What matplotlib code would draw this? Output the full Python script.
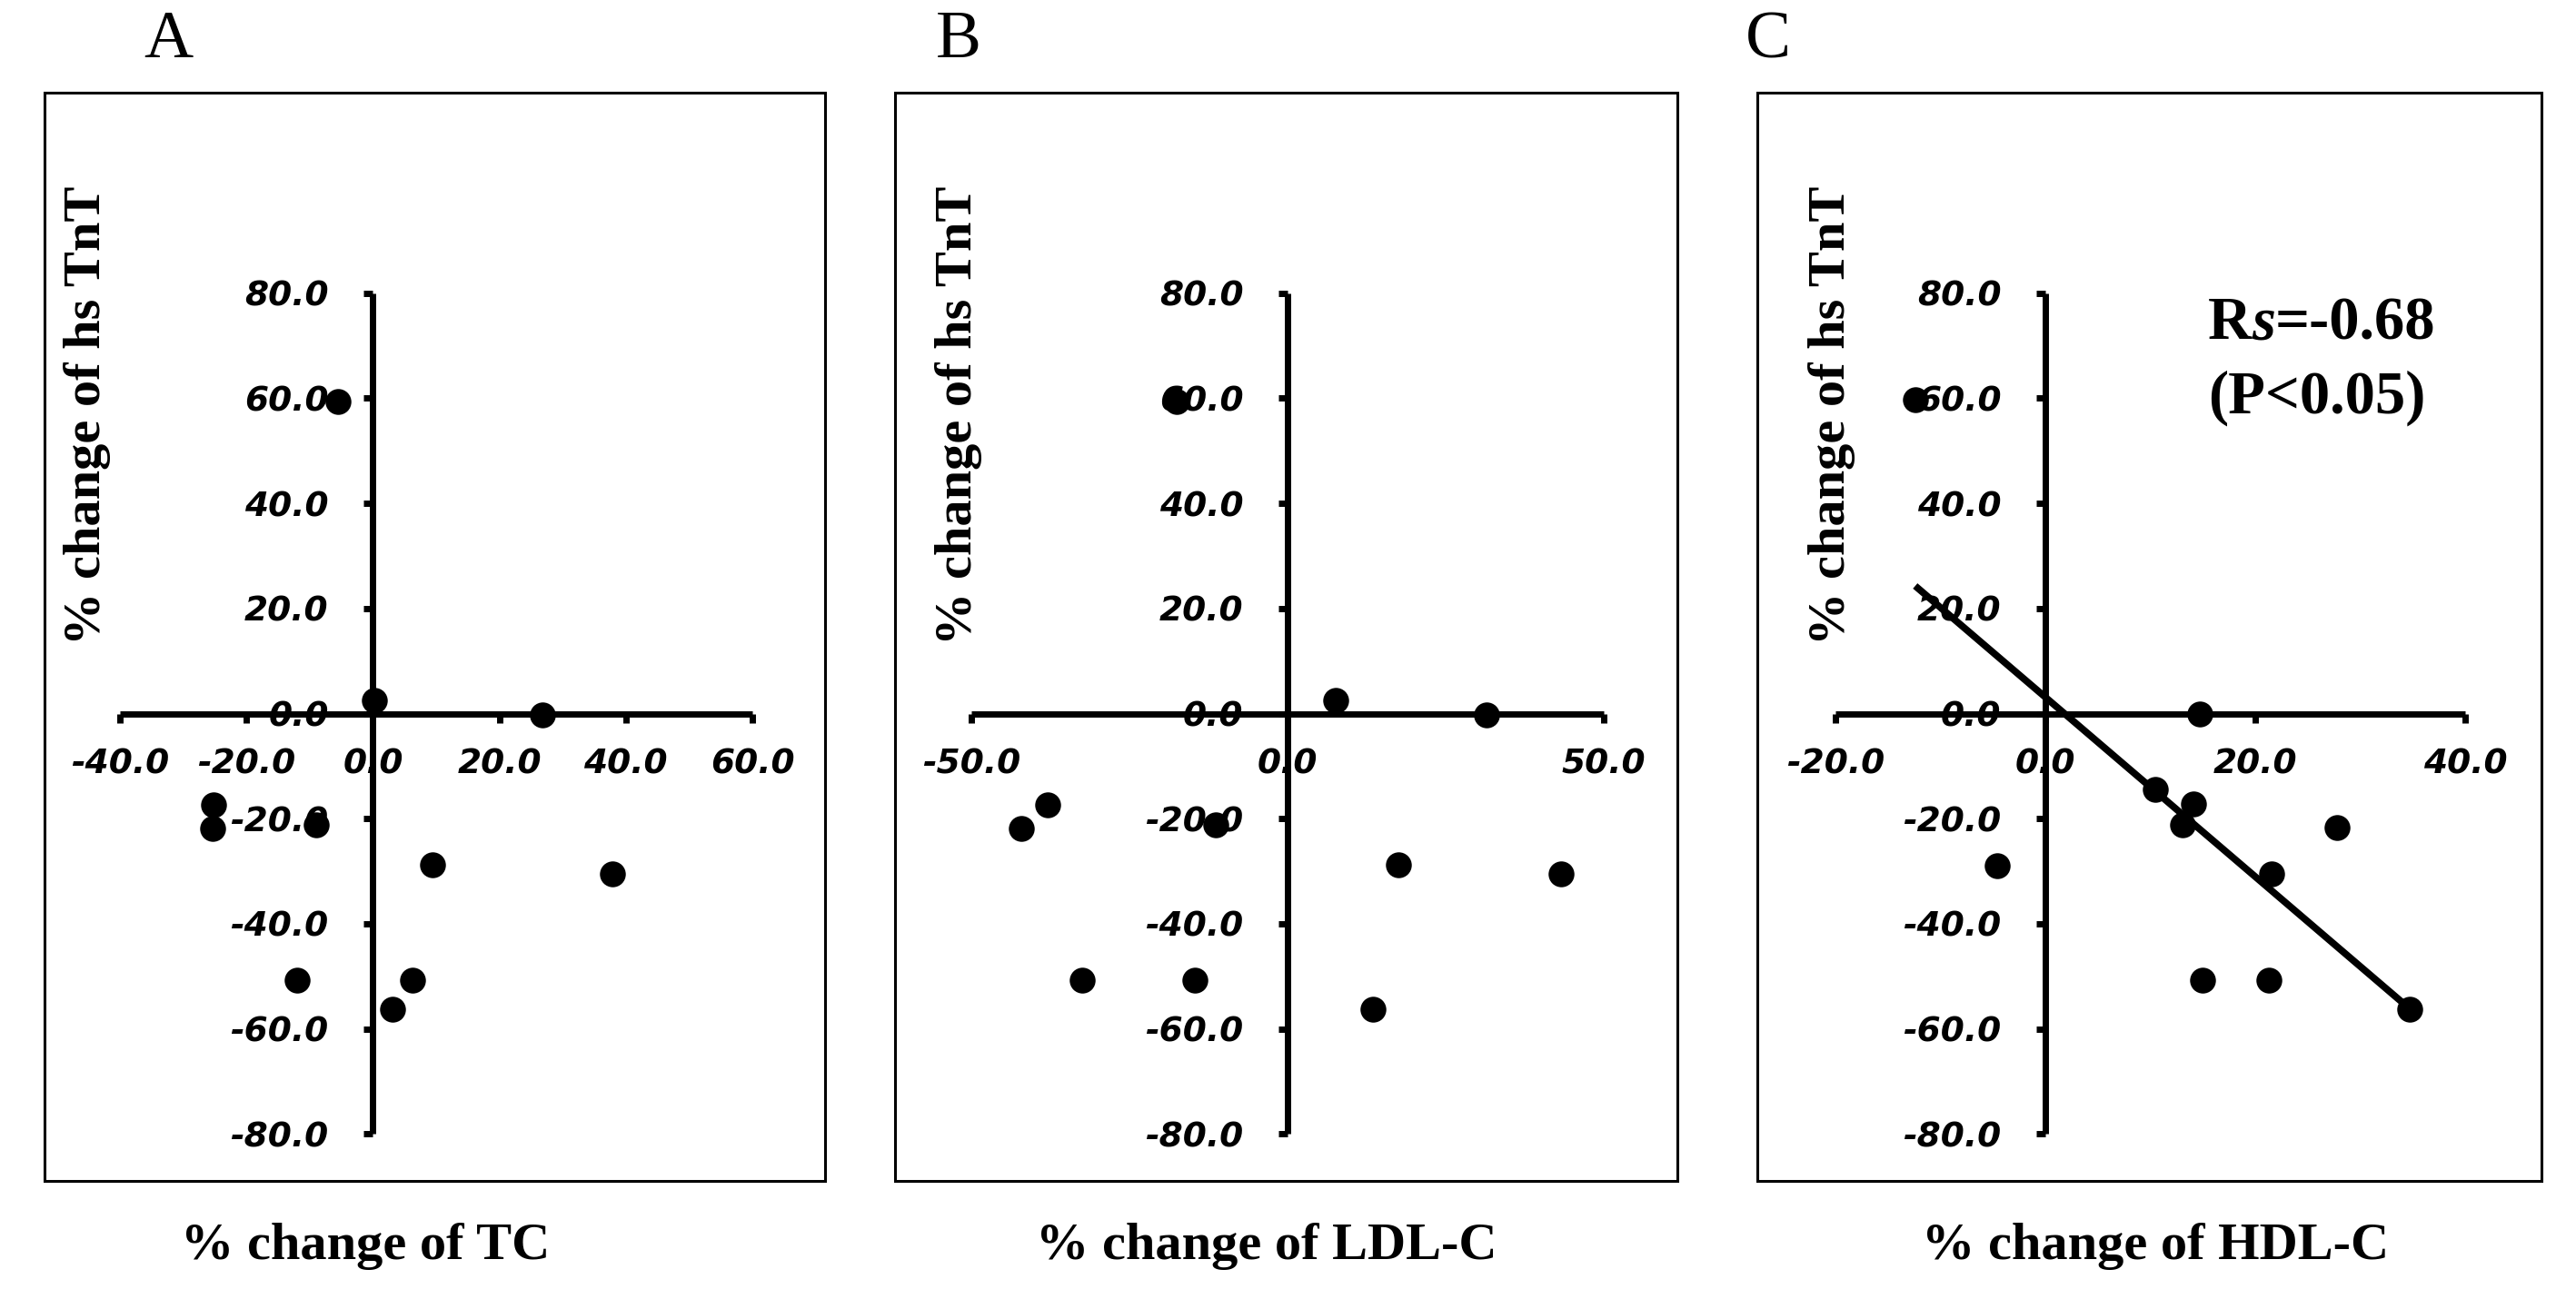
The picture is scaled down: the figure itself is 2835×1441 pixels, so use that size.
import numpy as np
import matplotlib
matplotlib.use("Agg")
import matplotlib.pyplot as plt
from matplotlib.patches import Rectangle

# data
tnt_ab = [59.3, 2.5, -0.3, -17.3, -21.8, -21.2, -28.8, -30.5, -50.7, -50.7, -56.3]   # % change of hs TnT (A, B)
tc = [-5.5, 0.2, 26.8, -25.2, -25.4, -8.9, 9.4, 37.9, -12.0, 6.2, 3.1]              # % change of TC
ldl = [-17.5, 7.6, 31.4, -37.9, -42.1, -11.3, 17.6, 43.2, -32.5, -14.7, 13.5]        # % change of LDL-C

tnt_c = [59.8, 0.0, -14.5, -17.2, -21.1, -28.9, -21.6, -30.5, -50.7, -50.7, -56.3]   # % change of hs TnT (C)
hdl = [-12.4, 14.7, 10.5, 14.1, 13.1, -4.6, 27.8, 21.6, 15.0, 21.3, 34.7]           # % change of HDL-C

x_ticks_a = [-40, -20, 0, 20, 40, 60]
x_ticks_b = [-50, 0, 50]
x_ticks_c = [-20, 0, 20, 40]
y_ticks = [-80, -60, -40, -20, 0, 20, 40, 60, 80]

panel_letters = ["A", "B", "C"]
x_titles = ["% change of TC", "% change of LDL-C", "% change of HDL-C"]
y_title = "% change of hs TnT"
stat_line1 = ("R", "s", "=-0.68")
stat_line2 = "(P<0.05)"

# figure in pixel units
W, H = 2835, 1441
fig = plt.figure(figsize=(W / 100, H / 100), dpi=100)
fig.patch.set_facecolor("white")

SERIF = "Liberation Serif"
TICKFONT = dict(family="DejaVu Sans", fontsize=27, fontweight="bold", fontstyle="italic")


def fx(x):
    return x / W


def fy(y):
    return 1 - y / H


# (box left, box right, axis left px, axis right px, y-label x, x-label x, letter x)
layout = [
    (49, 908, 132, 828, 96, 402, 185),
    (985, 1846, 1069, 1765, 1055, 1394, 1055),
    (1934, 2797, 2020, 2713, 2016, 2372, 1946),
]
ax_top, ax_bot = 322.7, 1248.4
box_top, box_bot = 102, 1300

panels = [
    (tc, tnt_ab, x_ticks_a),
    (ldl, tnt_ab, x_ticks_b),
    (hdl, tnt_c, x_ticks_c),
]

axes = []
for (xs, ys, xt), (b0, b1, a0, a1, ylx, xlx, lx), letter, xtitle in zip(
        panels, layout, panel_letters, x_titles):
    # outer frame
    fig.add_artist(Rectangle((fx(b0), fy(box_bot)), fx(b1 - b0), (box_bot - box_top) / H,
                             transform=fig.transFigure, fill=False, lw=2.2, ec="black"))

    ax = fig.add_axes([fx(a0), fy(ax_bot), fx(a1 - a0), (ax_bot - ax_top) / H])
    ax.patch.set_visible(False)
    ax.set_xlim(xt[0], xt[-1])
    ax.set_ylim(y_ticks[0], y_ticks[-1])

    # axes crossing at zero
    ax.spines["left"].set_position(("data", 0))
    ax.spines["bottom"].set_position(("data", 0))
    ax.spines["top"].set_visible(False)
    ax.spines["right"].set_visible(False)
    for s in ["left", "bottom"]:
        ax.spines[s].set_linewidth(5)
        ax.spines[s].set_capstyle("butt")

    ax.set_xticks(xt, [f"{v:.1f}" for v in xt], **TICKFONT)
    ax.set_yticks(y_ticks, [f"{v:.1f}" for v in y_ticks], **TICKFONT)
    ax.tick_params(axis="both", direction="out", length=7, width=5, color="black")
    ax.tick_params(axis="x", pad=20)
    ax.tick_params(axis="y", pad=28)

    ax.scatter(xs, ys, s=420, color="black", zorder=3, clip_on=False, linewidths=0)

    fig.text(fx(ylx), fy(457), y_title, rotation=90, ha="center", va="center",
             family=SERIF, fontsize=42, fontweight="bold")
    fig.text(fx(xlx), fy(1386), xtitle, ha="center", va="baseline",
             family=SERIF, fontsize=42, fontweight="bold")
    fig.text(fx(lx), fy(63), letter, ha="center", va="baseline",
             family=SERIF, fontsize=54)
    axes.append(ax)

# least-squares trend line for HDL-C panel
ax_c = axes[2]
slope, intercept = np.polyfit(hdl, tnt_c, 1)
x_fit = np.array([min(hdl), max(hdl)])
ax_c.plot(x_fit, slope * x_fit + intercept, color="black", lw=5.5, zorder=2,
          solid_capstyle="butt", clip_on=False)

# correlation annotation
t_r = fig.text(fx(2430), fy(373), stat_line1[0], ha="left", va="baseline",
               family=SERIF, fontsize=48, fontweight="bold")
t_s = ax_c.annotate(stat_line1[1], xy=(1, 0), xycoords=t_r, ha="left", va="bottom",
                    family=SERIF, fontsize=48, fontweight="bold", fontstyle="italic",
                    annotation_clip=False)
ax_c.annotate(stat_line1[2], xy=(1, 0), xycoords=t_s, ha="left", va="bottom",
              family=SERIF, fontsize=48, fontweight="bold", annotation_clip=False)
fig.text(fx(2430), fy(455), stat_line2, ha="left", va="baseline",
         family=SERIF, fontsize=48, fontweight="bold")

fig.savefig("out.png", dpi=100)
